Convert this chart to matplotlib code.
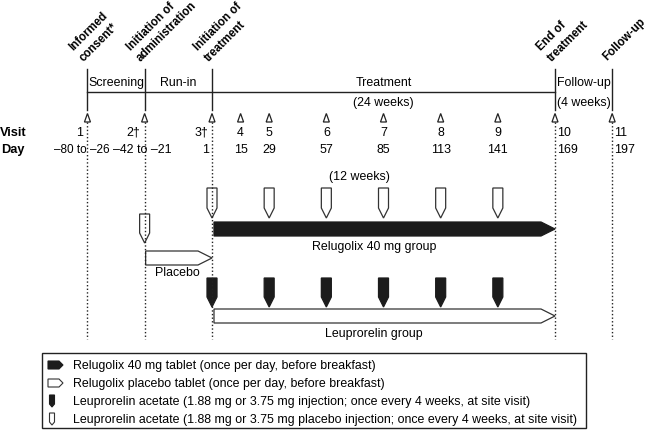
import matplotlib
matplotlib.use('Agg')
import matplotlib.pyplot as plt
from matplotlib.patches import Polygon, Rectangle

plt.rcParams['font.family'] = ['Liberation Sans', 'DejaVu Sans']

# ---------------- data ----------------
visit_labels = ['1', '2†', '3†', '4', '5', '6', '7', '8', '9', '10', '11']
day_labels = ['–80 to –26', '–42 to –21', '1', '15', '29', '57', '85', '113', '141', '169', '197']
# position of each visit on the day axis (screening / run-in drawn compressed)
visit_pos = [-60, -32, 1, 15, 29, 57, 85, 113, 141, 169, 197]
milestones = [['Informed', 'consent*'], ['Initiation of', 'administration'],
              ['Initiation of', 'treatment'], ['End of', 'treatment'], ['Follow-up']]
milestone_pos = [-60, -32, 1, 169, 197]
periods = ['Screening', 'Run-in', 'Treatment', 'Follow-up']
period_notes = ['', '', '(24 weeks)', '(4 weeks)']
injection_days = [1, 29, 57, 85, 113, 141]
runin_injection_day = -32
relugolix_span = (1, 169)
placebo_span = (-32, 1)
leuprorelin_span = (1, 169)
legend_labels = ['Relugolix 40 mg tablet (once per day, before breakfast)',
                 'Relugolix placebo tablet (once per day, before breakfast)',
                 'Leuprorelin acetate (1.88 mg or 3.75 mg injection; once every 4 weeks, at site visit)',
                 'Leuprorelin acetate (1.88 mg or 3.75 mg placebo injection; once every 4 weeks, at site visit)']

# ---------------- layout ----------------
W, H = 650, 431
SX = 2.0417          # pixels per day
X1 = 212             # pixel of day 1
def px2day(p):
    return 1 + (p - X1) / SX
def w(p):            # pixel width -> day width
    return p / SX

fig = plt.figure(figsize=(W / 100, H / 100), dpi=100)
ax = fig.add_axes([0, 0, 1, 1])
ax.set_xlim(px2day(0), px2day(W))
ax.set_ylim(H, 0)
ax.axis('off')

FS = 8.9
FSB = 8.3
EDGE = '#333333'
DARK = '#1c1c1c'

# milestone labels (rotated 45 deg, one text per line)
for lines, d in zip(milestones, milestone_pos):
    if len(lines) == 2:
        starts = [(-14, 51), (-3.5, 61.5)]
    else:
        starts = [(-5, 61)]
    for txt, (ox, oy) in zip(lines, starts):
        ax.text(d + w(ox), oy, txt, rotation=45, rotation_mode='anchor',
                ha='left', va='baseline', fontsize=FSB, fontweight='bold')

# solid top lines
for d in milestone_pos:
    ax.plot([d, d], [70, 111], color='#222222', lw=1.0)
ax.plot([milestone_pos[0], milestone_pos[3]], [93, 93], color='#222222', lw=1.0)

# period labels
bounds = list(zip(milestone_pos[:-1], milestone_pos[1:]))
for lab, note, (a, b) in zip(periods, period_notes, bounds):
    ax.text((a + b) / 2, 83, lab, ha='center', va='center', fontsize=FS)
    if note:
        ax.text((a + b) / 2, 103, note, ha='center', va='center', fontsize=FS)

# visit triangles
for d in visit_pos:
    tri = Polygon([[d - w(3), 123], [d + w(3), 123], [d, 114.5]], closed=True,
                  facecolor='white', edgecolor='#222222', lw=0.9)
    ax.add_patch(tri)

# dotted lines
for d in milestone_pos:
    ax.plot([d, d], [123, 340], color='#222222', lw=1.0, linestyle=(0, (1, 1.6)))

# visit and day labels
ax.text(px2day(0), 133, 'Visit', ha='left', va='center', fontsize=FS + 0.3, fontweight='bold')
ax.text(px2day(1), 150, 'Day', ha='left', va='center', fontsize=FS + 0.3, fontweight='bold')
for i, (v, dl, d) in enumerate(zip(visit_labels, day_labels, visit_pos)):
    if i < 3:
        ax.text(d - w(4), 133, v, ha='right', va='center', fontsize=FS)
    elif i >= 9:
        ax.text(d + w(2), 133, v, ha='left', va='center', fontsize=FS)
    else:
        ax.text(d, 133, v, ha='center', va='center', fontsize=FS)
    if i == 0:
        ax.text(d - w(5.5), 150, dl, ha='center', va='center', fontsize=8.5)
    elif i == 1:
        ax.text(d - w(2), 150, dl, ha='center', va='center', fontsize=FS)
    elif i == 2:
        ax.text(d - w(3), 150, dl, ha='right', va='center', fontsize=FS)
    elif i >= 9:
        ax.text(d + w(2), 150, dl, ha='left', va='center', fontsize=FS)
    else:
        ax.text(d, 150, dl, ha='center', va='center', fontsize=FS)

ax.text((injection_days[0] + injection_days[-1]) / 2 + 2, 177, '(12 weeks)',
        ha='center', va='center', fontsize=FS)


def injection(d, top, height, filled, width=10, tip=10):
    hw = w(width / 2)
    pts = [[d - hw, top], [d + hw, top], [d + hw, top + height - tip],
           [d, top + height], [d - hw, top + height - tip]]
    ax.add_patch(Polygon(pts, closed=True, facecolor=DARK if filled else 'white',
                         edgecolor=EDGE if not filled else DARK, lw=0.9, joinstyle='miter'))


def arrow(d0, d1, top, height, filled, tip=14):
    pts = [[d0, top], [d1 - w(tip), top], [d1, top + height / 2],
           [d1 - w(tip), top + height], [d0, top + height]]
    ax.add_patch(Polygon(pts, closed=True, facecolor=DARK if filled else 'white',
                         edgecolor=EDGE if not filled else DARK, lw=0.9, joinstyle='miter'))


# placebo injections (relugolix group)
for d in injection_days:
    injection(d, 189, 30, False)
injection(runin_injection_day, 215, 29, False)

# relugolix arrow
arrow(relugolix_span[0] + w(2), relugolix_span[1], 223, 14, True)
ax.text(px2day(374), 247, 'Relugolix 40 mg group', ha='center', va='center', fontsize=FS)

# placebo run-in arrow
arrow(placebo_span[0] + w(1), placebo_span[1], 252, 14, False)
ax.text(px2day(177), 273, 'Placebo', ha='center', va='center', fontsize=FS)

# leuprorelin injections
for d in injection_days:
    injection(d, 279, 29, True)

# leuprorelin arrow
arrow(leuprorelin_span[0] + w(2), leuprorelin_span[1], 310, 14, False)
ax.text(px2day(374), 334, 'Leuprorelin group', ha='center', va='center', fontsize=FS)

# legend box
lx0, lx1, ly0, ly1 = 42, 586, 354, 429
ax.add_patch(Rectangle((px2day(lx0), ly0), w(lx1 - lx0), ly1 - ly0, facecolor='white',
                       edgecolor='#222222', lw=1.0))
rows = [366, 384, 402, 420]
def leg_arrow(y, filled):
    x0, x1 = px2day(48), px2day(63)
    h = 8
    pts = [[x0, y - h / 2], [x1 - w(4), y - h / 2], [x1, y], [x1 - w(4), y + h / 2], [x0, y + h / 2]]
    ax.add_patch(Polygon(pts, closed=True, facecolor=DARK if filled else 'white',
                         edgecolor=DARK if filled else EDGE, lw=0.8))
def leg_inj(y, filled):
    c = px2day(52)
    hw = w(2.5)
    pts = [[c - hw, y - 6], [c + hw, y - 6], [c + hw, y + 3], [c, y + 6], [c - hw, y + 3]]
    ax.add_patch(Polygon(pts, closed=True, facecolor=DARK if filled else 'white',
                         edgecolor=DARK if filled else EDGE, lw=0.8))
leg_arrow(rows[0], True)
leg_arrow(rows[1], False)
leg_inj(rows[2], True)
leg_inj(rows[3], False)
for lab, y in zip(legend_labels, rows):
    ax.text(px2day(73), y, lab, ha='left', va='center', fontsize=FS)

fig.savefig('out.png', dpi=100)
